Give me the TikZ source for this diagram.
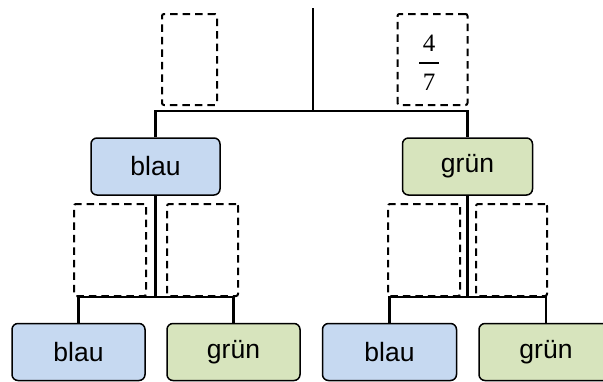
\documentclass[tikz,border=0pt]{standalone}
\usepackage{fontspec}
\setmainfont{Liberation Sans}
\newfontfamily\fracfont{Liberation Serif}
\definecolor{bluefill}{HTML}{C6D9F1}
\definecolor{greenfill}{HTML}{D7E4BD}
\tikzset{
  leaf/.style={draw=black, line width=1.5pt, rounded corners=6pt,
    minimum height=57pt, inner sep=0pt,
    font=\fontsize{26.5}{30}\selectfont},
  bluebox/.style={leaf, fill=bluefill},
  greenbox/.style={leaf, fill=greenfill},
  probbox/.style={draw=black, line width=2pt, dash pattern=on 7.5pt off 5pt,
    rounded corners=2pt, inner sep=0pt},
  branch/.style={draw=black, line width=2.2pt},
  digit/.style={inner sep=0pt, font=\fontsize{25}{30}\selectfont\fracfont},
}
\begin{document}
\begin{tikzpicture}[x=1pt, y=-1pt]
\useasboundingbox (0,0) rectangle (603,381);
\clip (0,0) rectangle (603,381);

% probability slots
\node[probbox, minimum width=55pt, minimum height=91pt] (p0l) at (189.5,59.5) {};
\node[probbox, minimum width=70pt, minimum height=91pt] (p0r) at (432.5,59.5) {};
\node[digit] (num) at (429,43.5) {4};
\node[digit] (den) at (429,82.5) {7};
\coordinate (barl) at (419,63);
\coordinate (barr) at (439,63);
\draw[line width=1.2pt] (barl) -- (barr);
\node[probbox, minimum width=72pt, minimum height=92pt] (p1a) at (110,250) {};
\node[probbox, minimum width=71pt, minimum height=92pt] (p1b) at (202.5,250) {};
\node[probbox, minimum width=72pt, minimum height=92pt] (p1c) at (424,250) {};
\node[probbox, minimum width=71pt, minimum height=92pt] (p1d) at (511.5,250) {};

% first stage
\node[bluebox, minimum width=129pt] (b1) at (155.5,166.5) {blau};
\node[greenbox, minimum width=130pt] (g1) at (467.5,166.5) {grün};

% second stage
\node[bluebox, minimum width=133pt] (bb) at (78.5,352) {blau};
\node[greenbox, minimum width=133pt] (bg) at (233.5,352) {grün};
\node[bluebox, minimum width=134pt] (gb) at (389.5,352) {blau};
\node[greenbox, minimum width=134pt] (gg) at (546,352) {grün};

% branches
\coordinate (root) at (313,8);
\coordinate (j0) at (313,111);
\coordinate (j1) at (155.5,297);
\coordinate (j2) at (467.5,297);
\draw[branch] (root) -- (j0);
\draw[branch] (b1.north) |- (j0) -| (g1.north);
\draw[branch] (b1.south) -- (j1);
\draw[branch] (bb.north) |- (j1) -| (bg.north);
\draw[branch] (g1.south) -- (j2);
\draw[branch] (gb.north) |- (j2) -| (gg.north);
\end{tikzpicture}
\end{document}
